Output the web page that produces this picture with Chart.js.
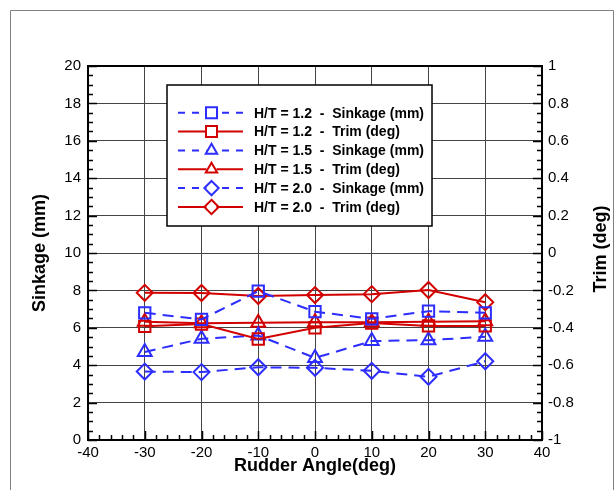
<!DOCTYPE html>
<html>
<head>
<meta charset="utf-8">
<script src="https://cdn.jsdelivr.net/npm/chart.js@4.4.0/dist/chart.umd.min.js"></script>
<style>
  html, body { margin: 0; padding: 0; background: #fff; overflow: hidden; }
  #grafico { display: block; }
</style>
</head>
<body>
<canvas id="grafico" width="616" height="490"></canvas>
<script>
// angulos do leme (eixo x)
const angulos = [-30, -20, -10, 0, 10, 20, 30]

// afundamento (mm) - eixo esquerdo
const sinkage12 = [6.80, 6.45, 7.96, 6.86, 6.48, 6.89, 6.80]
const sinkage15 = [4.71, 5.41, 5.59, 4.39, 5.29, 5.34, 5.52]
const sinkage20 = [3.66, 3.63, 3.89, 3.86, 3.70, 3.38, 4.21]

// trim (deg) - eixo direito
const trim12 = [-0.392, -0.380, -0.460, -0.400, -0.375, -0.390, -0.390]
const trim15 = [-0.367, -0.375, -0.373, -0.370, -0.370, -0.367, -0.365]
const trim20 = [-0.213, -0.214, -0.230, -0.225, -0.220, -0.198, -0.263]

const nomes = [
    'H/T = 1.2  -  Sinkage (mm)',
    'H/T = 1.2  -  Trim (deg)',
    'H/T = 1.5  -  Sinkage (mm)',
    'H/T = 1.5  -  Trim (deg)',
    'H/T = 2.0  -  Sinkage (mm)',
    'H/T = 2.0  -  Trim (deg)'
]

const AZUL = 'rgb(45, 45, 255)'
const VERMELHO = 'rgb(210, 0, 0)'
const FONTE = "'Liberation Sans', Arial, sans-serif"

function pontos(valores) {
    return angulos.map((a, i) => ({ x: a, y: valores[i] }))
}

function serie(nome, valores, eixo, cor, simbolo, tracejado) {
    return {
        label: nome,
        data: pontos(valores),
        yAxisID: eixo,
        borderColor: cor,
        borderWidth: 2,
        borderDash: tracejado ? [11, 7] : [],
        pointStyle: simbolo,
        pointRadius: 8,
        pointHoverRadius: 8,
        pointBorderWidth: 2,
        pointBorderColor: cor,
        pointBackgroundColor: 'rgba(0,0,0,0)',
        tension: 0,
        fill: false
    }
}

// desenha o simbolo na legenda
function simbolo(ctx, tipo, x, y, r) {
    ctx.beginPath()
    if (tipo == 'rect') {
        ctx.rect(x - r, y - r, 2 * r, 2 * r)
    } else if (tipo == 'triangle') {
        ctx.moveTo(x, y - r * 1.2)
        ctx.lineTo(x + r * 1.04, y + r * 0.6)
        ctx.lineTo(x - r * 1.04, y + r * 0.6)
        ctx.closePath()
    } else {
        ctx.moveTo(x, y - r * 1.3)
        ctx.lineTo(x + r * 1.3, y)
        ctx.lineTo(x, y + r * 1.3)
        ctx.lineTo(x - r * 1.3, y)
        ctx.closePath()
    }
    ctx.stroke()
}

function marcas(ctx, escala, de, ate, passo, cadaMaior, inicio, sentido, horizontal) {
    const n = Math.round((ate - de) / passo)
    ctx.beginPath()
    for (let i = 0; i <= n; i++) {
        const v = de + i * passo
        const p = Math.round(escala.getPixelForValue(v)) + 0.5
        const tam = (i % cadaMaior == 0) ? 9 : 5
        if (horizontal) {
            ctx.moveTo(p, inicio)
            ctx.lineTo(p, inicio + sentido * tam)
        } else {
            ctx.moveTo(inicio, p)
            ctx.lineTo(inicio + sentido * tam, p)
        }
    }
    ctx.stroke()
}

const pluginExtras = {
    id: 'extras',
    beforeDraw(chart) {
        const ctx = chart.ctx
        ctx.save()
        ctx.fillStyle = '#fff'
        ctx.fillRect(0, 0, chart.width, chart.height)
        ctx.strokeStyle = '#808080'
        ctx.lineWidth = 1
        ctx.beginPath()
        ctx.moveTo(10.5, 490)
        ctx.lineTo(10.5, 10.5)
        ctx.lineTo(613.5, 10.5)
        ctx.lineTo(613.5, 490)
        ctx.stroke()
        ctx.restore()
    },
    afterDatasetsDraw(chart) {
        const ctx = chart.ctx
        const a = chart.chartArea
        const s = chart.scales
        ctx.save()

        // moldura do grafico
        ctx.strokeStyle = '#000'
        ctx.lineWidth = 2
        ctx.strokeRect(a.left, a.top, a.right - a.left, a.bottom - a.top)

        // marcas menores
        ctx.lineWidth = 1.5
        marcas(ctx, s.y, 0, 20, 0.5, 4, a.left, 1, false)
        marcas(ctx, s.y2, -1, 1, 0.05, 4, a.right, -1, false)
        marcas(ctx, s.x, -40, 40, 2, 5, a.bottom, -1, true)

        // titulo do eixo direito
        ctx.fillStyle = '#000'
        ctx.font = 'bold 18px ' + FONTE
        ctx.textAlign = 'center'
        ctx.textBaseline = 'middle'
        ctx.translate(601, (a.top + a.bottom) / 2 - 4)
        ctx.rotate(-Math.PI / 2)
        ctx.fillText('Trim (deg)', 0, 0)
        ctx.restore()

        // legenda
        ctx.save()
        const bx = 167, by = 85, bw = 265, bh = 141
        ctx.fillStyle = '#fff'
        ctx.fillRect(bx, by, bw, bh)
        ctx.strokeStyle = '#000'
        ctx.lineWidth = 1.5
        ctx.strokeRect(bx, by, bw, bh)

        chart.data.datasets.forEach((d, i) => {
            const y = 112.7 + i * 18.85
            const xm = 211.5
            ctx.strokeStyle = d.borderColor
            ctx.lineWidth = 2
            ctx.setLineDash(d.borderDash.length ? [7, 7] : [])
            ctx.beginPath()
            ctx.moveTo(178, y)
            ctx.lineTo(xm - 5, y)
            ctx.moveTo(243, y)
            ctx.lineTo(xm + 5, y)
            ctx.stroke()
            ctx.setLineDash([])
            simbolo(ctx, d.pointStyle, xm, y, 5.5)

            ctx.fillStyle = '#000'
            ctx.font = 'bold 14px ' + FONTE
            ctx.textAlign = 'left'
            ctx.textBaseline = 'middle'
            ctx.fillText(d.label, 254, y + 1)
        })
        ctx.restore()
    }
}

const tickFonte = { family: FONTE, size: 15 }

new Chart(document.getElementById('grafico'), {
    type: 'line',
    data: {
        datasets: [
            serie(nomes[0], sinkage12, 'y', AZUL, 'rect', true),
            serie(nomes[1], trim12, 'y2', VERMELHO, 'rect', false),
            serie(nomes[2], sinkage15, 'y', AZUL, 'triangle', true),
            serie(nomes[3], trim15, 'y2', VERMELHO, 'triangle', false),
            serie(nomes[4], sinkage20, 'y', AZUL, 'rectRot', true),
            serie(nomes[5], trim20, 'y2', VERMELHO, 'rectRot', false)
        ]
    },
    options: {
        responsive: false,
        animation: false,
        layout: { padding: { top: 66, left: 0, right: 0, bottom: 0 } },
        plugins: {
            legend: { display: false },
            tooltip: { enabled: false }
        },
        scales: {
            x: {
                type: 'linear',
                min: -40,
                max: 40,
                ticks: { stepSize: 10, color: '#000', font: tickFonte, padding: 4, maxRotation: 0, autoSkip: false },
                grid: { color: '#444', lineWidth: 1, drawTicks: false },
                border: { display: false },
                title: {
                    display: true,
                    text: 'Rudder Angle(deg)',
                    color: '#000',
                    font: { family: FONTE, size: 18, weight: 'bold' },
                    padding: { top: 0, bottom: 13 }
                },
                afterFit(escala) { escala.height = 50 }
            },
            y: {
                position: 'left',
                min: 0,
                max: 20,
                ticks: { stepSize: 2, color: '#000', font: tickFonte, padding: 7 },
                grid: { color: '#444', lineWidth: 1, drawTicks: false },
                border: { display: false },
                title: {
                    display: true,
                    text: 'Sinkage (mm)',
                    color: '#000',
                    font: { family: FONTE, size: 18, weight: 'bold' },
                    padding: { top: 29, bottom: 0 }
                },
                afterFit(escala) { escala.width = 88 }
            },
            y2: {
                position: 'right',
                min: -1,
                max: 1,
                ticks: {
                    stepSize: 0.2,
                    color: '#000',
                    font: tickFonte,
                    padding: 6,
                    callback: v => String(Math.round(v * 10) / 10)
                },
                grid: { drawOnChartArea: false, drawTicks: false },
                border: { display: false },
                afterFit(escala) { escala.width = 74 }
            }
        }
    },
    plugins: [pluginExtras]
})
</script>
</body>
</html>
